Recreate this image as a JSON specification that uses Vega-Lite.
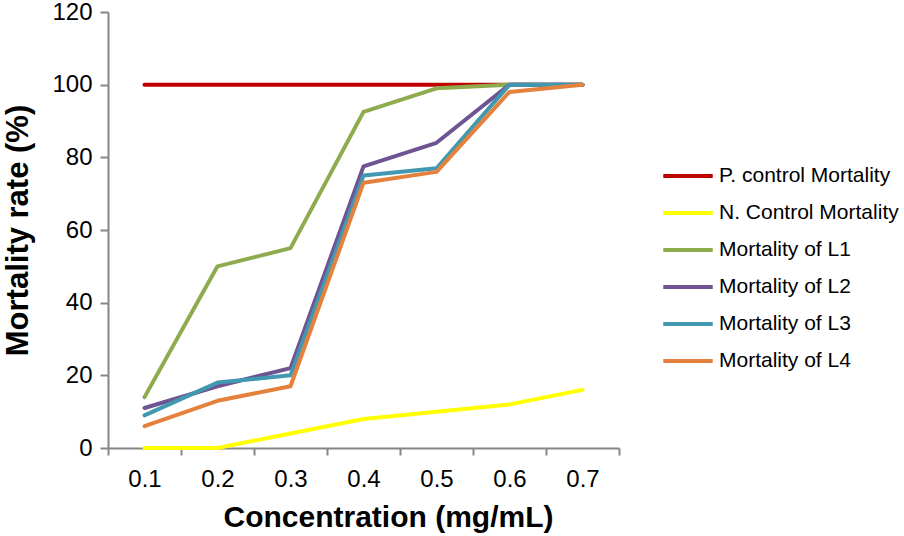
{
  "$schema": "https://vega.github.io/schema/vega-lite/v6.json",
  "width": 511,
  "height": 436,
  "autosize": {"type": "none"},
  "padding": {"left": 108, "top": 12, "right": 285, "bottom": 88},
  "background": "white",
  "config": {
    "view": {"stroke": null},
    "font": "Liberation Sans",
    "axis": {"domainColor": "#868686", "tickColor": "#868686", "domainWidth": 2, "tickWidth": 2, "labelColor": "#000000", "titleColor": "#000000", "grid": false, "labelFont": "Liberation Sans", "titleFont": "Liberation Sans"},
    "legend": {"labelFont": "Liberation Sans"}
  },
  "data": {
    "values": [
      {"conc": "0.1", "series": "P. control Mortality", "value": 100},
      {"conc": "0.2", "series": "P. control Mortality", "value": 100},
      {"conc": "0.3", "series": "P. control Mortality", "value": 100},
      {"conc": "0.4", "series": "P. control Mortality", "value": 100},
      {"conc": "0.5", "series": "P. control Mortality", "value": 100},
      {"conc": "0.6", "series": "P. control Mortality", "value": 100},
      {"conc": "0.7", "series": "P. control Mortality", "value": 100},
      {"conc": "0.1", "series": "N. Control Mortality", "value": 0},
      {"conc": "0.2", "series": "N. Control Mortality", "value": 0},
      {"conc": "0.3", "series": "N. Control Mortality", "value": 4},
      {"conc": "0.4", "series": "N. Control Mortality", "value": 8},
      {"conc": "0.5", "series": "N. Control Mortality", "value": 10},
      {"conc": "0.6", "series": "N. Control Mortality", "value": 12},
      {"conc": "0.7", "series": "N. Control Mortality", "value": 16},
      {"conc": "0.1", "series": "Mortality of L1", "value": 14},
      {"conc": "0.2", "series": "Mortality of L1", "value": 50},
      {"conc": "0.3", "series": "Mortality of L1", "value": 55},
      {"conc": "0.4", "series": "Mortality of L1", "value": 92.5},
      {"conc": "0.5", "series": "Mortality of L1", "value": 99},
      {"conc": "0.6", "series": "Mortality of L1", "value": 100},
      {"conc": "0.7", "series": "Mortality of L1", "value": 100},
      {"conc": "0.1", "series": "Mortality of L2", "value": 11},
      {"conc": "0.2", "series": "Mortality of L2", "value": 17},
      {"conc": "0.3", "series": "Mortality of L2", "value": 22},
      {"conc": "0.4", "series": "Mortality of L2", "value": 77.5},
      {"conc": "0.5", "series": "Mortality of L2", "value": 84},
      {"conc": "0.6", "series": "Mortality of L2", "value": 100},
      {"conc": "0.7", "series": "Mortality of L2", "value": 100},
      {"conc": "0.1", "series": "Mortality of L3", "value": 9},
      {"conc": "0.2", "series": "Mortality of L3", "value": 18},
      {"conc": "0.3", "series": "Mortality of L3", "value": 20},
      {"conc": "0.4", "series": "Mortality of L3", "value": 75},
      {"conc": "0.5", "series": "Mortality of L3", "value": 77},
      {"conc": "0.6", "series": "Mortality of L3", "value": 100},
      {"conc": "0.7", "series": "Mortality of L3", "value": 100},
      {"conc": "0.1", "series": "Mortality of L4", "value": 6},
      {"conc": "0.2", "series": "Mortality of L4", "value": 13},
      {"conc": "0.3", "series": "Mortality of L4", "value": 17},
      {"conc": "0.4", "series": "Mortality of L4", "value": 73},
      {"conc": "0.5", "series": "Mortality of L4", "value": 76},
      {"conc": "0.6", "series": "Mortality of L4", "value": 98},
      {"conc": "0.7", "series": "Mortality of L4", "value": 100}
    ]
  },
  "mark": {"type": "line", "strokeWidth": 4, "strokeCap": "round", "strokeJoin": "round"},
  "encoding": {
    "x": {
      "field": "conc",
      "type": "ordinal",
      "bandPosition": 0.5,
      "scale": {"type": "band", "paddingInner": 0, "paddingOuter": 0},
      "axis": {
        "title": "Concentration (mg/mL)",
        "titleFontSize": 30,
        "titleFontWeight": "bold",
        "titlePadding": 11,
        "titleX": 280,
        "labelFontSize": 24,
        "labelAngle": 0,
        "labelPadding": 12,
        "tickSize": 7,
        "tickBand": "extent"
      }
    },
    "y": {
      "field": "value",
      "type": "quantitative",
      "scale": {"domain": [0, 120], "nice": false},
      "axis": {
        "values": [0, 20, 40, 60, 80, 100, 120],
        "title": "Mortality rate (%)",
        "titleFontSize": 31,
        "titleFontWeight": "bold",
        "titlePadding": 17,
        "labelFontSize": 24,
        "labelPadding": 8,
        "tickSize": 8
      }
    },
    "color": {
      "field": "series",
      "type": "nominal",
      "scale": {
        "domain": ["P. control Mortality", "N. Control Mortality", "Mortality of L1", "Mortality of L2", "Mortality of L3", "Mortality of L4"],
        "range": ["#C00000", "#FFFF00", "#8EAC4E", "#6E5492", "#4199B1", "#E4823D"]
      },
      "legend": {
        "title": null,
        "orient": "none",
        "legendX": 553,
        "legendY": 137,
        "labelFontSize": 21,
        "labelLimit": 300,
        "labelColor": "#000000",
        "labelOffset": 4,
        "symbolType": "stroke",
        "symbolStrokeWidth": 4,
        "symbolSize": 2450,
        "rowPadding": 0
      }
    }
  }
}
